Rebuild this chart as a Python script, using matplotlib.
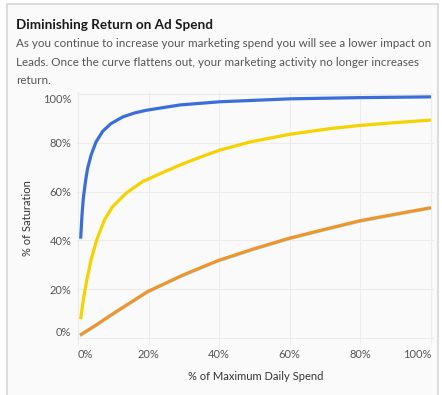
import matplotlib
matplotlib.use("Agg")
import matplotlib.pyplot as plt
from matplotlib.patches import Rectangle

# values (x = share of max daily spend, y = saturation)
blue_x = [0.0076, 0.0113, 0.015, 0.021, 0.027, 0.037, 0.051, 0.070, 0.093, 0.127,
          0.160, 0.193, 0.289, 0.402, 0.601, 0.799, 1.0]
blue_y = [0.407, 0.503, 0.571, 0.639, 0.694, 0.749, 0.803, 0.847, 0.878, 0.906,
          0.922, 0.933, 0.955, 0.968, 0.980, 0.985, 0.988]

yellow_x = [0.0076, 0.015, 0.025, 0.037, 0.053, 0.075, 0.098, 0.136, 0.183, 0.240,
            0.289, 0.346, 0.402, 0.487, 0.601, 0.714, 0.799, 0.903, 1.0]
yellow_y = [0.077, 0.156, 0.238, 0.320, 0.402, 0.484, 0.538, 0.593, 0.641, 0.678,
            0.709, 0.741, 0.770, 0.803, 0.835, 0.858, 0.871, 0.883, 0.893]

orange_x = [0.0057, 0.051, 0.108, 0.197, 0.297, 0.396, 0.495, 0.599, 0.698, 0.797, 0.901, 1.0]
orange_y = [0.012, 0.053, 0.108, 0.190, 0.258, 0.317, 0.364, 0.409, 0.445, 0.480, 0.508, 0.534]
teal_y = [0.009, 0.050, 0.105, 0.187, 0.255, 0.314, 0.361, 0.406, 0.442, 0.477, 0.505, 0.531]

ticks = [0, 0.2, 0.4, 0.6, 0.8, 1.0]
tick_labels = ["0%", "20%", "40%", "60%", "80%", "100%"]

plt.rcParams["font.family"] = ["Lato", "DejaVu Sans"]

W, H = 442, 395
fig = plt.figure(figsize=(W / 100, H / 100), dpi=100, facecolor="white")

# card background with thin border
fig.patches.append(Rectangle((7 / W, -0.05), 431 / W, (H - 4) / H + 0.05,
                             transform=fig.transFigure, facecolor="#fafafa",
                             edgecolor="#d6d6d6", linewidth=1.2, zorder=-10))

fig.text(16 / W, 1 - 25 / H, "Diminishing Return on Ad Spend", fontsize=9.75,
         fontweight="bold", color="#1a1a1a", va="center")
desc = ("As you continue to increase your marketing spend you will see a lower impact on\n"
        "Leads. Once the curve flattens out, your marketing activity no longer increases\n"
        "return.")
fig.text(16 / W, 1 - 38 / H, desc, fontsize=8.4, color="#555555", va="top",
         linespacing=1.85)

ax = fig.add_axes([77 / W, 1 - 345 / H, 357 / W, 253 / H])
ax.set_facecolor("#fafafa")
ax.set_xlim(-0.0028, 1.0085)
ax.set_ylim(-0.0287, 1.008)

ax.plot(orange_x, teal_y, color="#9fe3ea", lw=2.0, solid_capstyle="butt")
ax.plot(orange_x, orange_y, color="#f0942c", lw=2.3, solid_capstyle="butt")
ax.plot(yellow_x, yellow_y, color="#f5d200", lw=2.3, solid_capstyle="butt")
ax.plot(blue_x, blue_y, color="#3a6fd9", lw=2.3, solid_capstyle="butt")

ax.set_xticks(ticks)
ax.set_yticks(ticks)
ax.set_xticklabels(tick_labels)
ax.set_yticklabels(tick_labels)
ax.grid(True, color="#ececec", linewidth=0.8)
ax.set_axisbelow(True)
for s in ax.spines.values():
    s.set_visible(False)
ax.tick_params(length=0, labelsize=8, labelcolor="#555555")
ax.tick_params(axis="y", pad=4)
ax.tick_params(axis="x", pad=3)

# Tableau keeps the end labels inside the axis range
ylabs = ax.get_yticklabels()
ylabs[0].set_va("bottom")
ylabs[-1].set_va("top")
xlabs = ax.get_xticklabels()
xlabs[0].set_ha("left")
xlabs[-1].set_ha("right")

ax.set_ylabel("% of Saturation", fontsize=8, color="#333333", labelpad=7)
ax.set_xlabel("% of Maximum Daily Spend", fontsize=8, color="#333333", labelpad=8)

plt.savefig("out.png", dpi=100, facecolor="white")
